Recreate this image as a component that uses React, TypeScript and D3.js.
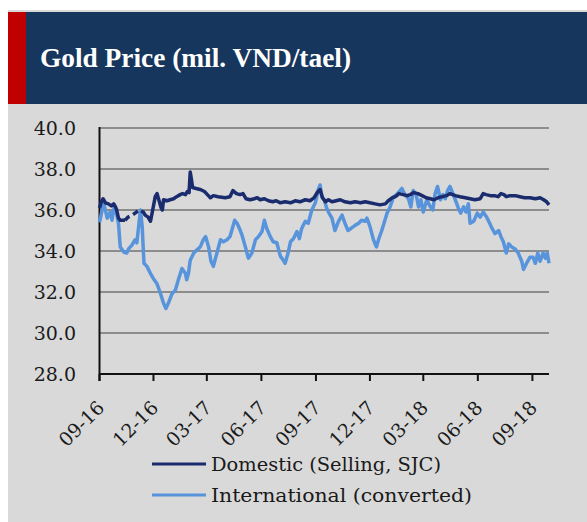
import React from "react";
import * as d3 from "d3";

const TITLE = "Gold Price (mil. VND/tael)";
const Y_TICKS = [28, 30, 32, 34, 36, 38, 40];
const X_TICK_DATES = ["2016-09-01", "2016-12-01", "2017-03-01", "2017-06-01", "2017-09-01", "2017-12-01", "2018-03-01", "2018-06-01", "2018-09-01"];
const X_TICK_LABELS = ["09-16", "12-16", "03-17", "06-17", "09-17", "12-17", "03-18", "06-18", "09-18"];
const X_DOMAIN = ["2016-09-01", "2018-09-29"];
const SERIES_NAMES = ["Domestic (Selling, SJC)", "International (converted)"];
const DOMESTIC_GAP = ["2016-10-14", "2016-11-10"];

const DOMESTIC_DATES = [
  "2016-09-01","2016-09-04","2016-09-07","2016-09-11","2016-09-16","2016-09-21","2016-09-25","2016-09-28","2016-09-30","2016-10-03",
  "2016-10-06","2016-10-09","2016-10-14","2016-10-19","2016-10-26","2016-10-31","2016-11-07","2016-11-10","2016-11-14","2016-11-17",
  "2016-11-22","2016-11-26","2016-11-29","2016-12-04","2016-12-07","2016-12-10","2016-12-14","2016-12-16","2016-12-18","2016-12-24",
  "2016-12-29","2017-01-04","2017-01-09","2017-01-15","2017-01-19","2017-01-24","2017-01-27","2017-01-30","2017-02-01","2017-02-03",
  "2017-02-05","2017-02-11","2017-02-18","2017-02-25","2017-03-02","2017-03-07","2017-03-12","2017-03-20","2017-04-01","2017-04-09",
  "2017-04-14","2017-04-20","2017-04-26","2017-05-01","2017-05-06","2017-05-13","2017-05-20","2017-05-25","2017-05-30","2017-06-06",
  "2017-06-13","2017-06-20","2017-06-26","2017-07-03","2017-07-11","2017-07-20","2017-07-28","2017-08-05","2017-08-14","2017-08-22",
  "2017-08-29","2017-09-03","2017-09-08","2017-09-12","2017-09-17","2017-09-22","2017-09-28","2017-10-05","2017-10-12","2017-10-20",
  "2017-10-29","2017-11-06","2017-11-15","2017-11-23","2017-12-01","2017-12-10","2017-12-18","2017-12-27","2018-01-01","2018-01-08",
  "2018-01-13","2018-01-19","2018-01-26","2018-02-02","2018-02-07","2018-02-13","2018-02-20","2018-02-27","2018-03-06","2018-03-13",
  "2018-03-19","2018-03-26","2018-04-02","2018-04-09","2018-04-15","2018-04-24","2018-05-02","2018-05-11","2018-05-19","2018-05-27",
  "2018-06-05","2018-06-10","2018-06-15","2018-06-22","2018-06-29","2018-07-05","2018-07-10","2018-07-15","2018-07-19","2018-07-25",
  "2018-08-03","2018-08-11","2018-08-19","2018-08-28","2018-09-06","2018-09-14","2018-09-20","2018-09-25","2018-09-29"
];
const DOMESTIC_VALUES = [
  36.1,36.4,36.55,36.35,36.3,36.2,36.3,36.15,36.0,35.6,
  35.5,35.5,35.5,35.65,35.75,35.85,36.0,35.95,35.9,35.75,
  35.65,35.45,35.9,36.65,36.8,36.5,36.1,36.0,36.5,36.45,
  36.5,36.55,36.65,36.75,36.8,36.75,36.9,36.85,37.85,37.5,
  37.1,37.05,37.0,36.9,36.75,36.6,36.7,36.65,36.6,36.65,
  36.95,36.8,36.75,36.8,36.55,36.5,36.55,36.6,36.5,36.55,
  36.45,36.4,36.45,36.35,36.4,36.35,36.45,36.4,36.5,36.45,
  36.6,36.85,37.0,36.6,36.4,36.5,36.4,36.45,36.5,36.4,
  36.35,36.4,36.35,36.4,36.35,36.3,36.25,36.3,36.45,36.6,
  36.65,36.8,36.75,36.7,36.75,36.85,36.8,36.7,36.6,36.55,
  36.5,36.6,36.65,36.7,36.8,36.7,36.65,36.6,36.55,36.5,
  36.55,36.8,36.75,36.7,36.7,36.65,36.8,36.75,36.65,36.7,
  36.7,36.65,36.6,36.6,36.55,36.6,36.5,36.4,36.25
];

const INTL_DATES = [
  "2016-09-01","2016-09-08","2016-09-14","2016-09-19","2016-09-22","2016-09-26","2016-09-30","2016-10-03","2016-10-06","2016-10-12",
  "2016-10-17","2016-10-20","2016-10-26","2016-10-31","2016-11-03","2016-11-06","2016-11-09","2016-11-12","2016-11-15","2016-11-20",
  "2016-11-26","2016-12-01","2016-12-07","2016-12-12","2016-12-18","2016-12-22","2016-12-26","2017-01-01","2017-01-07","2017-01-12",
  "2017-01-18","2017-01-24","2017-01-26","2017-01-29","2017-02-01","2017-02-07","2017-02-12","2017-02-18","2017-02-23","2017-02-27",
  "2017-03-04","2017-03-08","2017-03-12","2017-03-18","2017-03-24","2017-03-29","2017-04-04","2017-04-09","2017-04-17","2017-04-21",
  "2017-04-25","2017-04-29","2017-05-05","2017-05-10","2017-05-16","2017-05-22","2017-05-27","2017-06-02","2017-06-06","2017-06-10",
  "2017-06-16","2017-06-21","2017-06-27","2017-07-03","2017-07-08","2017-07-11","2017-07-16","2017-07-20","2017-07-25","2017-07-31",
  "2017-08-04","2017-08-08","2017-08-14","2017-08-19","2017-08-25","2017-08-31","2017-09-05","2017-09-08","2017-09-11","2017-09-15",
  "2017-09-19","2017-09-23","2017-09-28","2017-10-03","2017-10-09","2017-10-15","2017-10-20","2017-10-25","2017-10-30","2017-11-06",
  "2017-11-12","2017-11-17","2017-11-23","2017-11-26","2017-12-01","2017-12-07","2017-12-12","2017-12-16","2017-12-21","2017-12-30",
  "2018-01-04","2018-01-10","2018-01-15","2018-01-24","2018-01-29","2018-02-04","2018-02-08","2018-02-12","2018-02-17","2018-02-21",
  "2018-02-25","2018-03-01","2018-03-07","2018-03-13","2018-03-17","2018-03-21","2018-03-25","2018-03-30","2018-04-03","2018-04-07",
  "2018-04-11","2018-04-15","2018-04-20","2018-04-24","2018-04-29","2018-05-03","2018-05-08","2018-05-12","2018-05-16","2018-05-19",
  "2018-05-25","2018-05-31","2018-06-05","2018-06-10","2018-06-16","2018-06-21","2018-06-25","2018-06-30","2018-07-06","2018-07-10",
  "2018-07-14","2018-07-19","2018-07-23","2018-07-28","2018-08-03","2018-08-08","2018-08-14","2018-08-17","2018-08-23","2018-08-28",
  "2018-09-02","2018-09-06","2018-09-10","2018-09-14","2018-09-19","2018-09-23","2018-09-26","2018-09-29"
];
const INTL_VALUES = [
  35.4,36.35,35.6,35.9,35.5,36.15,35.8,35.35,34.2,33.95,
  33.9,34.1,34.3,34.55,34.4,35.2,36.0,35.2,33.4,33.25,
  32.9,32.65,32.4,32.0,31.45,31.2,31.45,31.9,32.1,32.6,
  33.15,32.9,32.6,32.9,33.55,33.9,34.05,34.2,34.55,34.7,
  34.2,33.5,33.25,33.9,34.55,34.45,34.55,34.7,35.5,35.35,
  35.1,34.8,34.2,33.65,33.9,34.55,34.7,34.95,35.5,35.1,
  34.7,34.45,34.4,33.75,33.55,33.4,33.9,34.45,34.6,34.95,
  34.6,35.1,35.45,35.35,36.0,36.35,37.0,37.22,36.65,36.5,
  36.1,35.85,35.6,35.0,35.45,35.75,35.35,35.0,35.1,35.25,
  35.35,35.5,35.45,35.6,35.2,34.55,34.2,34.6,35.0,35.85,
  36.15,36.65,36.75,37.05,36.75,36.55,36.15,36.95,36.75,36.15,
  36.5,35.9,36.5,36.15,36.0,36.8,37.15,36.5,36.75,36.55,
  36.95,37.15,36.8,36.5,36.1,35.85,36.15,35.9,36.3,35.35,
  35.45,35.85,35.65,35.9,35.65,35.35,35.1,34.85,35.0,34.7,
  34.45,33.9,34.35,34.2,34.1,33.9,33.5,33.1,33.45,33.7,
  33.7,33.4,33.9,33.5,33.9,33.65,33.9,33.4
];

const W = 587;
const H = 522;
const parse = d3.utcParse("%Y-%m-%d");

export default function App() {
  const x = d3.scaleUtc().domain(X_DOMAIN.map((d) => parse(d) as Date)).range([99.5, 549]);
  const y = d3.scaleLinear().domain([28, 40]).range([374, 128]);

  const dom = DOMESTIC_DATES.map((d, i) => ({ date: parse(d) as Date, v: DOMESTIC_VALUES[i] }));
  const intl = INTL_DATES.map((d, i) => ({ date: parse(d) as Date, v: INTL_VALUES[i] }));
  const g0 = parse(DOMESTIC_GAP[0]) as Date;
  const g1 = parse(DOMESTIC_GAP[1]) as Date;

  const line = d3
    .line<{ date: Date; v: number }>()
    .x((d) => x(d.date))
    .y((d) => y(d.v));

  const domBefore = dom.filter((d) => d.date <= g0);
  const domGap = dom.filter((d) => d.date >= g0 && d.date <= g1);
  const domAfter = dom.filter((d) => d.date >= g1);

  const serif = "'DejaVu Serif', serif";
  const navy = "#1a2c6d";
  const light = "#5794dc";

  return (
    <svg width={W} height={H} style={{ position: "absolute", left: 0, top: 0 }}>
      <rect x={0} y={0} width={W} height={H} fill="#ffffff" />
      <rect x={8} y={10} width={W - 8} height={H - 10} fill="#d9d9d9" />
      <rect x={8} y={12} width={W - 8} height={92} fill="#17365d" />
      <rect x={8} y={12} width={18} height={92} fill="#c00000" />
      <text x={40} y={67} fill="#ffffff" fontFamily="'Liberation Serif', serif" fontWeight="bold" fontSize={28} textLength={311} lengthAdjust="spacingAndGlyphs">
        {TITLE}
      </text>

      {Y_TICKS.filter((t) => t > 28).map((t) => (
        <line key={"g" + t} x1={99} x2={549} y1={y(t)} y2={y(t)} stroke="#8c8c8c" strokeWidth={2} />
      ))}
      {Y_TICKS.map((t) => (
        <text key={"yl" + t} x={76} y={y(t) + 7} textAnchor="end" fontFamily={serif} fontSize={19} fill="#1a1a1a">
          {t.toFixed(1)}
        </text>
      ))}

      <line x1={99.5} x2={99.5} y1={127} y2={381} stroke="#111" strokeWidth={2} />
      <line x1={99} x2={549} y1={374} y2={374} stroke="#111" strokeWidth={2} />
      {X_TICK_DATES.map((d, i) => {
        const xx = x(parse(d) as Date);
        return (
          <g key={"xt" + i}>
            <line x1={xx} x2={xx} y1={374} y2={381} stroke="#111" strokeWidth={2} />
            <text
              transform={`translate(${xx + 6},${409}) rotate(-45)`}
              textAnchor="end"
              fontFamily={serif}
              fontSize={19}
              fill="#1a1a1a"
            >
              {X_TICK_LABELS[i]}
            </text>
          </g>
        );
      })}

      <path d={line(intl) || ""} fill="none" stroke={light} strokeWidth={3.5} strokeLinejoin="round" />
      <path d={line(domBefore) || ""} fill="none" stroke={navy} strokeWidth={3.5} strokeLinejoin="round" />
      <path d={line(domGap) || ""} fill="none" stroke={navy} strokeWidth={3.5} strokeDasharray="6,4" />
      <path d={line(domAfter) || ""} fill="none" stroke={navy} strokeWidth={3.5} strokeLinejoin="round" />

      <line x1={152} x2={206} y1={464} y2={464} stroke={navy} strokeWidth={3} />
      <text x={211} y={471} fontFamily={serif} fontSize={19} fill="#1a1a1a" textLength={230} lengthAdjust="spacingAndGlyphs">
        {SERIES_NAMES[0]}
      </text>
      <line x1={152} x2={206} y1={495} y2={495} stroke={light} strokeWidth={3} />
      <text x={211} y={502} fontFamily={serif} fontSize={19} fill="#1a1a1a" textLength={261} lengthAdjust="spacingAndGlyphs">
        {SERIES_NAMES[1]}
      </text>
    </svg>
  );
}
